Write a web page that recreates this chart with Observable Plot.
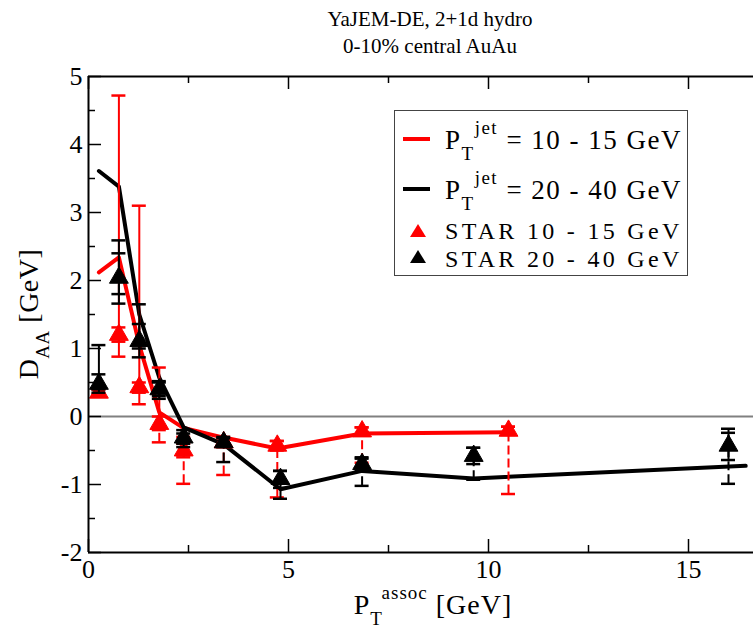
<!DOCTYPE html>
<html><head><meta charset="utf-8">
<script src="https://cdn.jsdelivr.net/npm/d3@7"></script>
<script src="https://cdn.jsdelivr.net/npm/@observablehq/plot@0.6"></script>
<style>
body{margin:0;background:#fff;}
#wrap{position:relative;width:753px;height:629px;color:#000;overflow:hidden;}
#wrap svg{position:absolute;left:0;top:0;}
.t{position:absolute;white-space:nowrap;line-height:24px;}
.c{transform:translateX(-50%);}
.sub{font-size:19px;position:relative;top:11px;}
.sup{font-size:19px;position:relative;top:-15px;}
#legend{position:absolute;left:394px;top:110px;width:294px;height:166px;border:1px solid #444;box-sizing:border-box;background:#fff;}
</style></head><body><div id="wrap"></div>
<script>
// Theory curves (YaJEM-DE)
const xJet10 = [0.26, 0.76, 1.27, 1.77, 2.38, 3.38, 4.72, 6.84, 10.55];
const yJet10 = [2.12, 2.34, 1.05, 0.06, -0.17, -0.31, -0.47, -0.25, -0.23];
const xJet20 = [0.26, 0.76, 1.27, 1.77, 2.38, 3.38, 4.8, 6.84, 9.63, 16.43];
const yJet20 = [3.61, 3.38, 1.5, 0.57, -0.16, -0.41, -1.07, -0.8, -0.91, -0.725];

// STAR 10-15 GeV
const xStar10 = [0.26, 0.76, 1.27, 1.77, 2.38, 3.38, 4.72, 6.84, 10.5];
const yStar10 = [0.35, 1.2, 0.43, -0.11, -0.5, -0.38, -0.43, -0.22, -0.21];
const statLo10 = [0.30, 0.88, 0.18, -0.2, -0.6, -0.45, -0.5, -0.28, -0.27];
const statHi10 = [0.40, 4.72, 3.1, 0.72, -0.4, -0.32, -0.36, -0.16, -0.15];
const sysLo10 = [0.30, 1.1, 0.35, -0.38, -0.99, -0.86, -1.19, -0.68, -1.14];
const sysHi10 = [0.40, 1.31, 0.5, 0.0, -0.3, -0.3, -0.36, -0.16, -0.15];

// STAR 20-40 GeV
const xStar20 = [0.26, 0.76, 1.27, 1.77, 2.38, 3.38, 4.8, 6.84, 9.63, 16.0];
const yStar20 = [0.48, 2.04, 1.11, 0.4, -0.31, -0.38, -0.92, -0.7, -0.58, -0.43];
const statLo20 = [0.35, 1.66, 0.87, 0.26, -0.45, -0.45, -1.05, -0.8, -0.7, -0.64];
const statHi20 = [1.05, 2.59, 1.65, 0.52, -0.2, -0.32, -0.8, -0.62, -0.46, -0.18];
const sysLo20 = [0.4, 1.8, 1.0, 0.3, -0.4, -0.67, -1.21, -1.02, -0.93, -0.99];
const sysHi20 = [0.62, 2.4, 1.36, 0.5, -0.25, -0.3, -0.8, -0.6, -0.46, -0.24];

// Axis ticks
const xMajor = [0, 5, 10, 15];
const xMinor = [2.5, 7.5, 12.5];
const yMajor = [-2, -1, 0, 1, 2, 3, 4, 5];
const yMinor = [-1.5, -0.5, 0.5, 1.5, 2.5, 3.5, 4.5];

const FONT = '"Liberation Serif", serif';
const W = 753, H = 629, mL = 88, mR = 0, mT = 76, mB = 77;
const xDom = [0, 16.625], yDom = [-2, 5];
const pw = W - mL - mR, ph = H - mT - mB;
const capU = 7 / (pw / (xDom[1] - xDom[0]));

function rows(xs, ys, sl, sh, yl, yh) {
  return xs.map((x, i) => ({x, y: ys[i], sl: sl[i], sh: sh[i], yl: yl[i], yh: yh[i]}));
}
const star10 = rows(xStar10, yStar10, statLo10, statHi10, sysLo10, sysHi10);
const star20 = rows(xStar20, yStar20, statLo20, statHi20, sysLo20, sysHi20);

function errMarks(data, color) {
  const cap = k => Plot.ruleY(data, {y: k, x1: d => d.x - capU, x2: d => d.x + capU, stroke: color, strokeWidth: 2.5});
  return [
    Plot.ruleX(data, {x: "x", y1: "yl", y2: "yh", stroke: color, strokeWidth: 2, strokeDasharray: "9,4"}),
    Plot.ruleX(data, {x: "x", y1: "sl", y2: "sh", stroke: color, strokeWidth: 2}),
    cap("sl"), cap("sh"), cap("yl"), cap("yh"),
    Plot.dot(data, {x: "x", y: "y", symbol: "triangle", r: 7, fill: color, stroke: color, strokeWidth: 1})
  ];
}

const plot = Plot.plot({
  width: W, height: H, marginLeft: mL, marginRight: mR, marginTop: mT, marginBottom: mB,
  x: {domain: xDom}, y: {domain: yDom},
  style: {fontFamily: FONT, background: "white", color: "black"},
  marks: [
    Plot.ruleY([0], {stroke: "#808080", strokeWidth: 2}),
    Plot.line(xJet10, {x: xJet10, y: yJet10, stroke: "#ff0000", strokeWidth: 4}),
    Plot.line(xJet20, {x: xJet20, y: yJet20, stroke: "black", strokeWidth: 4}),
    ...errMarks(star10, "#ff0000"),
    ...errMarks(star20, "black"),
    // frame
    Plot.ruleY(yDom, {stroke: "black", strokeWidth: 2}),
    Plot.ruleX([0], {stroke: "black", strokeWidth: 2}),
    // inward ticks
    Plot.ruleX(xMajor, {stroke: "black", strokeWidth: 1.5, insetTop: ph - 13}),
    Plot.ruleX(xMajor, {stroke: "black", strokeWidth: 1.5, insetBottom: ph - 13}),
    Plot.ruleX(xMinor, {stroke: "black", strokeWidth: 1.5, insetTop: ph - 7}),
    Plot.ruleX(xMinor, {stroke: "black", strokeWidth: 1.5, insetBottom: ph - 7}),
    Plot.ruleY(yMajor, {stroke: "black", strokeWidth: 1.5, insetRight: pw - 13}),
    Plot.ruleY(yMinor, {stroke: "black", strokeWidth: 1.5, insetRight: pw - 7}),
    Plot.axisX(xMajor, {tickSize: 0, tickPadding: 7, fontSize: 26, fontFamily: FONT, label: null, tickFormat: d => d}),
    Plot.axisY(yMajor, {tickSize: 0, tickPadding: 6, fontSize: 26, fontFamily: FONT, label: null, tickFormat: d => d})
  ]
});
plot.style.fontFamily = FONT;
plot.querySelectorAll("text").forEach(t => t.setAttribute("font-family", FONT));

const wrap = document.getElementById("wrap");
wrap.appendChild(plot);

function add(html, style, cls) {
  const d = document.createElement("div");
  d.className = "t " + (cls || "");
  d.innerHTML = html;
  d.style.fontFamily = FONT;
  Object.assign(d.style, style);
  wrap.appendChild(d);
  return d;
}
// titles
add("YaJEM-DE, 2+1d hydro", {left: "430px", top: "7px", fontSize: "21px"}, "c");
add("0-10% central AuAu", {left: "430px", top: "34px", fontSize: "21px"}, "c");
// x label
add('P<span class="sub">T</span><span class="sup">assoc</span> [GeV]', {left: "433px", top: "593px", fontSize: "28px", letterSpacing: "1px"}, "c");
// y label
add('D<span class="sub">AA</span> [GeV]', {left: "30px", top: "314px", fontSize: "28px", letterSpacing: "0.5px", transform: "translate(-50%,-50%) rotate(-90deg)"});

// legend
const lg = document.createElement("div");
lg.id = "legend";
wrap.appendChild(lg);
function leg(html, top, fs, ls) { add(html, {left: "445px", top: top + "px", fontSize: fs + "px", letterSpacing: ls + "px"}); }
leg('P<span class="sub">T</span><span class="sup">jet</span> = 10 - 15 GeV', 128, 27, 1.5);
leg('P<span class="sub">T</span><span class="sup">jet</span> = 20 - 40 GeV', 178, 27, 1.5);
leg('STAR 10 - 15 GeV', 219, 24, 3.3);
leg('STAR 20 - 40 GeV', 247, 24, 3.3);
function swatchLine(color, y) {
  const d = document.createElement("div");
  Object.assign(d.style, {position: "absolute", left: "403px", top: (y - 2) + "px", width: "27px", height: "4px", background: color});
  wrap.appendChild(d);
}
swatchLine("#ff0000", 139);
swatchLine("black", 189);
function swatchTri(color, cy) {
  const ns = "http://www.w3.org/2000/svg";
  const s = document.createElementNS(ns, "svg");
  s.setAttribute("width", "20"); s.setAttribute("height", "18");
  Object.assign(s.style, {position: "absolute", left: "408px", top: (cy - 9) + "px"});
  const p = document.createElementNS(ns, "path");
  p.setAttribute("d", "M10,2 L18,15 L2,15 Z");
  p.setAttribute("fill", color);
  s.appendChild(p);
  wrap.appendChild(s);
}
swatchTri("#ff0000", 231);
swatchTri("black", 257);
</script></body></html>
